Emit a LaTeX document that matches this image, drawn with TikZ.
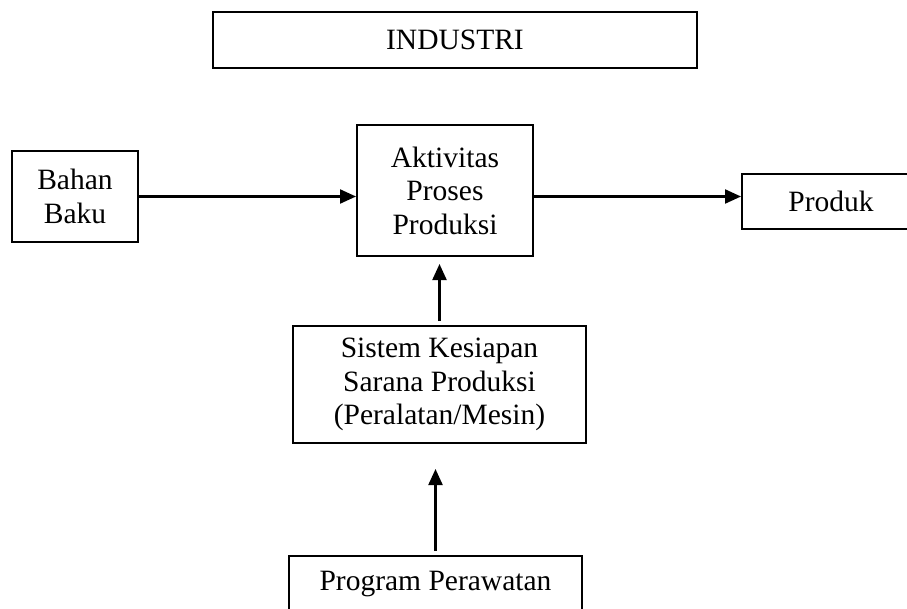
\documentclass[tikz,border=0pt]{standalone}
\usepackage{fontspec}
\setmainfont{Liberation Serif}
\usetikzlibrary{arrows.meta,positioning}

\begin{document}
\begin{tikzpicture}[
    x=1pt, y=-1pt,
    font=\fontsize{29.5}{33.5}\selectfont,
    blok/.style={draw, line width=2pt, align=center, inner sep=0pt},
    panah/.style={->, line width=2.2pt},
    >={Triangle[length=16pt,width=14pt]},
    ]
\useasboundingbox (0,0) rectangle (907,608);

\node[blok, minimum width=484pt, minimum height=56pt] (ind) at (455,40) {INDUSTRI};

\node[blok, minimum width=126pt, minimum height=91pt] (bahan) at (75,196.5) {Bahan\\Baku};
\node[blok, minimum width=176pt, minimum height=131pt] (akt) at (445,190.5)
     {Aktivitas\\Proses\\Produksi};
% produk box runs past the right edge of the page
\node[blok, minimum width=178pt, minimum height=55pt] (produk) at (831,201.5) {Produk};

\node[blok, minimum width=293pt, minimum height=117pt] (sis) at (439.5,384.5)
     {Sistem Kesiapan\\Sarana Produksi\\(Peralatan/Mesin)};
% program box is cut by the bottom edge
\node[blok, minimum width=293pt, minimum height=56pt] (prog) at (435.5,584) {Program Perawatan};

\draw[panah] (bahan.east) -- (bahan.east -| akt.west);
\draw[panah] (akt.east |- bahan.east) -- (produk.west |- bahan.east);
\draw[panah, shorten <=4pt, shorten >=7pt] (sis.north) -- (sis.north |- akt.south);
\draw[panah, shorten <=4pt, shorten >=25pt] (prog.north) -- (prog.north |- sis.south);
\end{tikzpicture}
\end{document}
